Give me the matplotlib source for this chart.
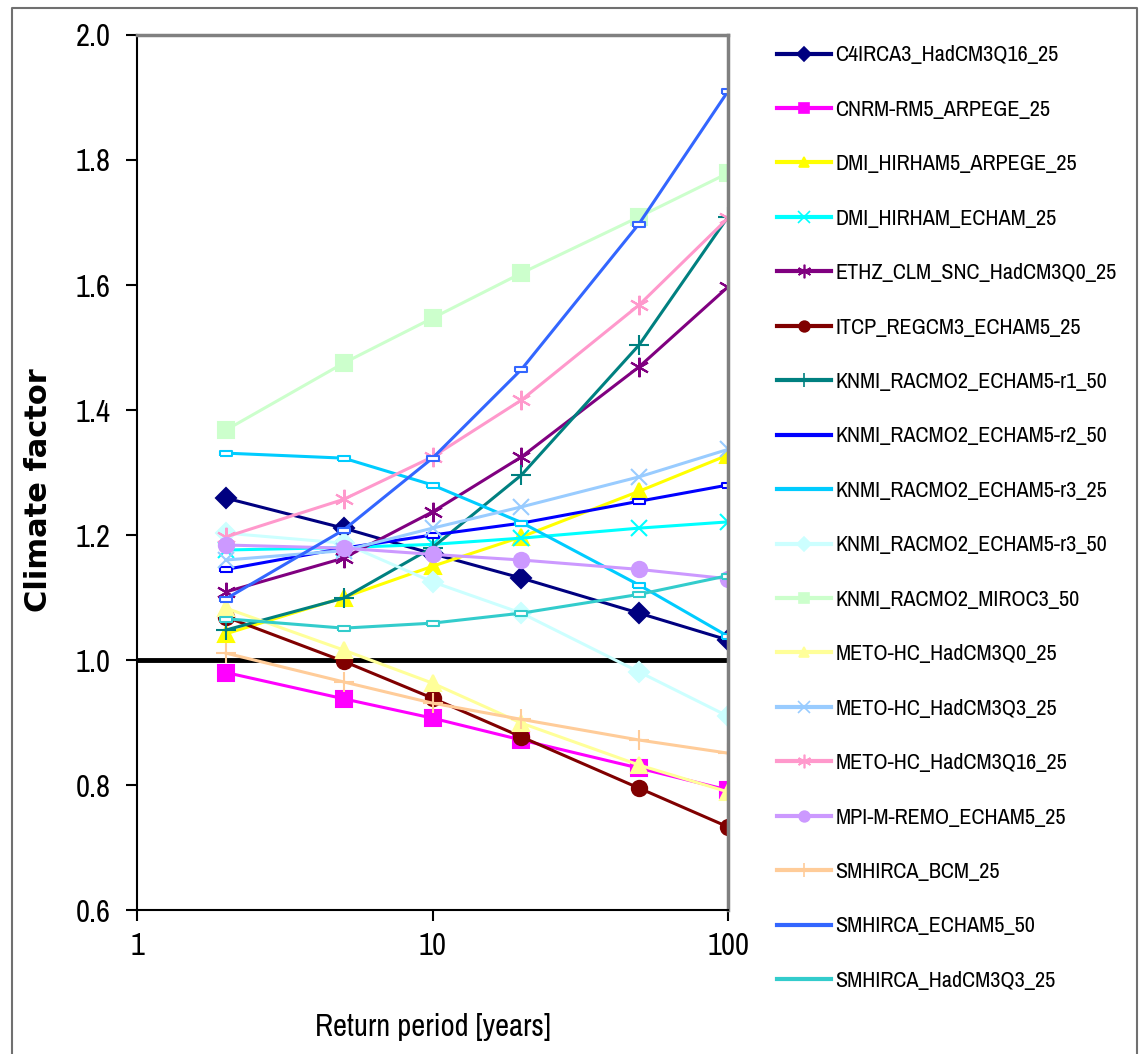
import matplotlib
matplotlib.use('Agg')
import matplotlib.pyplot as plt
from matplotlib.lines import Line2D
from matplotlib.ticker import FixedLocator, FixedFormatter, NullLocator

plt.rcParams['font.family'] = ['Archivo Narrow', 'Liberation Sans', 'DejaVu Sans']

# return periods (years)
periods = [2, 5, 10, 20, 50, 100]

names = ['C4IRCA3_HadCM3Q16_25', 'CNRM-RM5_ARPEGE_25', 'DMI_HIRHAM5_ARPEGE_25',
         'DMI_HIRHAM_ECHAM_25', 'ETHZ_CLM_SNC_HadCM3Q0_25', 'ITCP_REGCM3_ECHAM5_25',
         'KNMI_RACMO2_ECHAM5-r1_50', 'KNMI_RACMO2_ECHAM5-r2_50', 'KNMI_RACMO2_ECHAM5-r3_25',
         'KNMI_RACMO2_ECHAM5-r3_50', 'KNMI_RACMO2_MIROC3_50', 'METO-HC_HadCM3Q0_25',
         'METO-HC_HadCM3Q3_25', 'METO-HC_HadCM3Q16_25', 'MPI-M-REMO_ECHAM5_25',
         'SMHIRCA_BCM_25', 'SMHIRCA_ECHAM5_50', 'SMHIRCA_HadCM3Q3_25']

c4irca3_q16 = [1.259, 1.211, 1.170, 1.131, 1.075, 1.032]
cnrm_arpege = [0.980, 0.938, 0.907, 0.872, 0.827, 0.792]
dmi_arpege = [1.042, 1.100, 1.150, 1.197, 1.270, 1.328]
dmi_echam = [1.176, 1.180, 1.185, 1.195, 1.211, 1.221]
ethz_q0 = [1.109, 1.163, 1.237, 1.325, 1.469, 1.597]
itcp_echam5 = [1.069, 0.998, 0.939, 0.877, 0.795, 0.733]
knmi_r1_50 = [1.048, 1.099, 1.180, 1.296, 1.504, 1.709]
knmi_r2_50 = [1.145, 1.179, 1.200, 1.219, 1.254, 1.280]
knmi_r3_25 = [1.331, 1.323, 1.280, 1.220, 1.120, 1.038]
knmi_r3_50 = [1.203, 1.187, 1.125, 1.075, 0.981, 0.910]
knmi_miroc3 = [1.368, 1.475, 1.547, 1.619, 1.709, 1.779]
meto_q0 = [1.083, 1.016, 0.963, 0.899, 0.832, 0.789]
meto_q3 = [1.160, 1.175, 1.211, 1.245, 1.293, 1.337]
meto_q16 = [1.197, 1.257, 1.325, 1.416, 1.568, 1.707]
mpi_remo = [1.184, 1.179, 1.169, 1.160, 1.145, 1.130]
smhi_bcm = [1.011, 0.965, 0.931, 0.905, 0.872, 0.851]
smhi_echam5 = [1.098, 1.208, 1.323, 1.465, 1.698, 1.910]
smhi_q3 = [1.066, 1.051, 1.059, 1.075, 1.105, 1.135]

series = [c4irca3_q16, cnrm_arpege, dmi_arpege, dmi_echam, ethz_q0, itcp_echam5,
          knmi_r1_50, knmi_r2_50, knmi_r3_25, knmi_r3_50, knmi_miroc3, meto_q0,
          meto_q3, meto_q16, mpi_remo, smhi_bcm, smhi_echam5, smhi_q3]

colors = ['#000080', '#FF00FF', '#FFFF00', '#00FFFF', '#800080', '#800000',
          '#008080', '#0000FF', '#00CCFF', '#CCFFFF', '#CCFFCC', '#FFFF99',
          '#99CCFF', '#FF99CC', '#CC99FF', '#FFCC99', '#3366FF', '#33CCCC']

rect = [(-1, -0.45), (1, -0.45), (1, 0.45), (-1, 0.45), (-1, -0.45)]
star = (6, 2, 0)
markers = ['D', 's', '^', 'x', star, 'o', '+', rect, rect,
           'D', 's', '^', 'x', star, 'o', '+', rect, rect]
sizes = [10, 11, 11, 12, 14, 11, 14, 8, 8, 10, 11, 11, 12, 14, 11, 14, 8, 8]

fig = plt.figure(figsize=(11.4, 10.54), dpi=100)
ax = fig.add_axes([0.1202, 0.1366, 0.5184, 0.8302])

handles = []
for vals, name, col, mk, ms in zip(series, names, colors, markers, sizes):
    face = 'white' if mk is rect else col
    ax.plot(periods, vals, color=col, lw=2.2, marker=mk, ms=ms,
            mfc=face, mec=col, mew=1.5)
    # legend: tiny rect markers are not visible in the original key
    if mk is rect:
        handles.append(Line2D([], [], color=col, lw=3, label=name))
    else:
        handles.append(Line2D([], [], color=col, lw=3, marker=mk, ms=ms * 0.7,
                              mfc=col, mec=col, mew=1.2, label=name))

ax.axhline(1.0, color='black', lw=3.5, zorder=1)

ax.set_xscale('log')
ax.set_xlim(1, 100)
ax.set_ylim(0.6, 2.0)
ax.xaxis.set_major_locator(FixedLocator([1, 10, 100]))
ax.xaxis.set_major_formatter(FixedFormatter(['1', '10', '100']))
ax.xaxis.set_minor_locator(NullLocator())
ax.set_yticks([0.6, 0.8, 1.0, 1.2, 1.4, 1.6, 1.8, 2.0])
ax.set_yticklabels(['0.6', '0.8', '1.0', '1.2', '1.4', '1.6', '1.8', '2.0'])
ax.tick_params(axis='both', direction='out', length=8, width=1.5, labelsize=22)
ax.tick_params(axis='y', pad=11)
ax.tick_params(axis='x', pad=8)

for s in ['left', 'bottom']:
    ax.spines[s].set_color('black')
    ax.spines[s].set_linewidth(1.5)
for s in ['top', 'right']:
    ax.spines[s].set_color('#808080')
    ax.spines[s].set_linewidth(2.5)

ax.set_xlabel('Return period [years]', fontsize=22, labelpad=38)
ax.set_ylabel('Climate factor', fontsize=22, fontweight='bold',
              family=['DejaVu Sans'])
ax.yaxis.set_label_coords(-0.142, 0.48)

fig.legend(handles=handles, loc='upper left', bbox_to_anchor=(0.6816, 0.957),
           frameon=False, fontsize=16, handlelength=2.45, handletextpad=0.18,
           labelspacing=1.55, borderaxespad=0, borderpad=0)

# outer chart border (left, top, right)
fig.add_artist(Line2D([0.0105, 0.0105, 0.9975, 0.9975], [0.0, 0.9925, 0.9925, 0.0],
                      transform=fig.transFigure, color='#707070', lw=1.5))

fig.savefig('out.png', dpi=100, facecolor='white')
